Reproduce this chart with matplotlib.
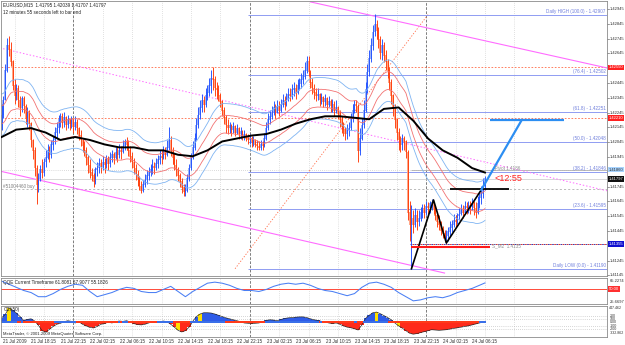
import numpy as np
import pandas as pd
import matplotlib
matplotlib.use("Agg")
import matplotlib.pyplot as plt
from matplotlib.transforms import blended_transform_factory as btf

plt.rcParams['font.family'] = ['Liberation Sans', 'DejaVu Sans']

# ---------------- data (prices in pips above BASE) ----------------
BASE = 1.4000
PIP = 0.0001
first_open_pips = 213
close_pips = [
    223, 233, 253, 270, 267, 259, 243, 236, 241, 233,
    228, 234, 229, 221, 225, 217, 206, 199, 187, 176,
    180, 186, 184, 191, 194, 199, 196, 203, 206, 211,
    214, 220, 222, 218, 221, 216, 220, 217, 220, 215,
    218, 214, 209, 206, 202, 199, 194, 189, 184, 182,
    178, 186, 187, 190, 188, 191, 189, 193, 190, 194,
    196, 194, 198, 196, 199, 198, 202, 205, 203, 199,
    195, 191, 187, 183, 179, 175, 172, 176, 179, 182,
    184, 186, 188, 187, 190, 193, 195, 194, 198, 196,
    201, 206, 199, 194, 189, 186, 182, 178, 174, 171,
    172, 180, 187, 194, 201, 207, 216, 223, 228, 233,
    230, 236, 238, 243, 248, 247, 241, 240, 236, 232,
    226, 221, 216, 214, 216, 213, 215, 211, 214, 210,
    212, 209, 210, 207, 206, 207, 205, 206, 203, 202,
    201, 203, 202, 207, 214, 220, 222, 225, 228, 225,
    229, 226, 230, 233, 230, 234, 237, 236, 240, 241,
    238, 243, 244, 247, 249, 253, 259, 252, 245, 241,
    238, 236, 237, 233, 235, 232, 234, 230, 232, 229,
    230, 226, 228, 224, 220, 215, 213, 210, 213, 214,
    221, 226, 230, 229, 199, 207, 216, 226, 240, 252,
    261, 270, 279, 284, 280, 274, 265, 270, 263, 259,
    253, 245, 236, 228, 220, 211, 206, 203, 207, 205,
    198, 157, 149, 153, 149, 155, 151, 153, 157, 160,
    157, 161, 160, 163, 164, 159, 155, 151, 149, 145,
    143, 140, 141, 144, 147, 149, 152, 151, 155, 156,
    159, 157, 161, 160, 162, 161, 163, 160, 157, 163,
    167, 170, 175, 180]
high_pips = [
    230, 236, 257, 275, 276, 272, 260, 247, 244, 243,
    236, 236, 236, 230, 228, 226, 218, 207, 201, 189,
    184, 189, 193, 194, 199, 203, 202, 206, 209, 215,
    218, 223, 224, 224, 225, 222, 223, 221, 222, 221,
    222, 220, 215, 213, 207, 205, 201, 196, 193, 187,
    184, 188, 191, 194, 193, 195, 194, 196, 195, 198,
    199, 198, 201, 201, 203, 202, 206, 207, 208, 206,
    202, 198, 194, 190, 186, 182, 178, 179, 183, 186,
    188, 190, 193, 191, 194, 196, 199, 199, 202, 201,
    206, 215, 209, 201, 197, 193, 188, 184, 180, 176,
    176, 183, 190, 197, 205, 211, 221, 228, 233, 237,
    236, 241, 243, 248, 253, 255, 249, 245, 243, 238,
    233, 228, 223, 220, 218, 217, 218, 216, 217, 215,
    215, 213, 213, 211, 210, 210, 209, 209, 207, 206,
    205, 206, 205, 211, 218, 224, 226, 229, 232, 230,
    233, 232, 234, 237, 236, 238, 241, 241, 244, 245,
    244, 247, 248, 251, 253, 259, 263, 263, 253, 248,
    244, 241, 241, 238, 238, 236, 237, 235, 236, 234,
    234, 232, 233, 229, 226, 222, 218, 215, 217, 218,
    224, 230, 233, 233, 230, 214, 221, 233, 245, 257,
    267, 275, 284, 291, 287, 282, 276, 274, 272, 267,
    261, 255, 247, 237, 230, 221, 214, 209, 210, 209,
    206, 199, 165, 162, 159, 160, 159, 159, 161, 163,
    163, 165, 164, 165, 166, 164, 161, 157, 155, 151,
    148, 145, 145, 147, 151, 152, 156, 155, 157, 160,
    163, 162, 165, 164, 165, 165, 167, 165, 164, 168,
    171, 175, 180, 182]
low_pips = [
    213, 221, 233, 252, 263, 256, 240, 230, 233, 228,
    222, 225, 224, 217, 215, 213, 201, 193, 182, 163,
    171, 178, 180, 182, 188, 193, 191, 194, 199, 203,
    207, 211, 215, 214, 215, 213, 214, 213, 214, 211,
    213, 210, 206, 202, 198, 195, 189, 184, 180, 178,
    174, 176, 182, 184, 184, 186, 184, 187, 186, 188,
    191, 190, 193, 191, 194, 193, 197, 199, 199, 195,
    191, 187, 183, 179, 175, 172, 170, 171, 174, 176,
    179, 182, 183, 183, 186, 187, 190, 190, 193, 193,
    195, 199, 195, 190, 186, 182, 178, 174, 170, 168,
    168, 171, 178, 186, 193, 199, 206, 214, 220, 225,
    225, 228, 233, 236, 238, 240, 236, 234, 232, 228,
    222, 217, 211, 210, 211, 209, 211, 209, 210, 207,
    207, 206, 206, 205, 203, 203, 201, 202, 201, 199,
    199, 199, 199, 201, 206, 213, 217, 220, 223, 221,
    224, 222, 225, 228, 226, 229, 232, 232, 234, 236,
    234, 237, 240, 241, 244, 247, 251, 249, 241, 237,
    234, 232, 233, 229, 230, 228, 229, 226, 228, 225,
    225, 222, 224, 220, 215, 211, 209, 206, 207, 209,
    213, 218, 224, 225, 191, 196, 206, 214, 225, 238,
    249, 259, 267, 276, 274, 268, 261, 260, 259, 253,
    248, 240, 230, 222, 214, 206, 199, 198, 199, 199,
    194, 152, 138, 119, 143, 147, 145, 148, 151, 153,
    153, 155, 156, 157, 159, 156, 152, 147, 145, 142,
    140, 137, 136, 138, 141, 144, 147, 147, 149, 152,
    155, 153, 156, 156, 157, 156, 159, 155, 153, 156,
    160, 163, 167, 172]

slow_ma_bars = list(range(0, 257, 8)) + [263]
slow_ma_pips = [208, 213, 214, 211, 206, 208, 206, 203, 201, 201, 199, 199,
                196, 195, 199, 205, 207, 209, 210, 213, 217, 220, 222, 222,
                221, 220, 227, 228, 219, 207, 199, 194, 187, 184]

qqe_bars = list(range(0, 261, 4)) + [263]
qqe_values = [65.2, 59.3, 53.4, 47.4, 43.5, 35.6, 35.6, 41.5, 49.4, 55.3,
              59.3, 57.3, 45.5, 35.6, 39.5, 43.5, 49.4, 53.4, 51.4, 45.5,
              43.5, 43.5, 49.4, 55.3, 45.5, 35.6, 45.5, 53.4, 61.3, 63.3,
              61.3, 57.3, 51.4, 47.4, 47.4, 45.5, 49.4, 55.3, 59.3, 61.3,
              59.3, 61.3, 57.3, 51.4, 47.4, 45.5, 41.5, 37.5, 41.5, 53.4,
              61.3, 63.3, 59.3, 53.4, 43.5, 35.6, 27.7, 29.6, 33.6, 35.6,
              33.6, 37.5, 43.5, 47.4, 51.4, 57.3, 61.8]
qqe_level = 50

cci_bars = list(range(0, 263, 2))
cci_values = [140, 250, 447, 380, 290, 180, 60, 90, 110, 40,
              -90, -260, -300, -220, -130, -60, -30, 20, 50, 30,
              -20, 20, -60, -110, -160, -175, -130, -60, -40, 10,
              -20, 20, 40, 30, 50, 10, -40, -70, -80, -60,
              -20, 20, 30, 10, 40, 20, -60, -150, -250, -300,
              -260, -150, 30, 180, 260, 300, 300, 290, 260, 220,
              180, 140, 110, 80, 50, 20, -20, -30, -40, -30,
              -20, 20, 60, 80, 70, 50, 90, 120, 140, 150,
              160, 170, 170, 150, 110, 80, 60, 30, 10, -20,
              -40, -20, -60, -110, -150, -170, -200, -240, -80, 120,
              220, 300, 320, 270, 210, 150, 80, -20, -110, -180,
              -260, -340, -370, -350, -320, -290, -260, -230, -240, -250,
              -240, -230, -210, -190, -170, -150, -130, -110, -80, -50,
              -20, 10]
cci_signal_bars = [4, 96, 108, 204, 216]

time_labels = ["21 Jul 2009", "21 Jul 18:15", "21 Jul 22:15", "22 Jul 02:15",
               "22 Jul 06:15", "22 Jul 10:15", "22 Jul 14:15", "22 Jul 18:15",
               "22 Jul 22:15", "23 Jul 02:15", "23 Jul 06:15", "23 Jul 10:15",
               "23 Jul 14:15", "23 Jul 18:15", "23 Jul 22:15", "24 Jul 02:15",
               "24 Jul 06:15"]
first_label_bar = 7
bars_per_label = 16
separator_bars = [39, 135, 231]

price_ticks = [1.42945, 1.42845, 1.42745, 1.42645, 1.42445, 1.42345, 1.42245,
               1.42145, 1.42045, 1.41945, 1.41745, 1.41645, 1.41545, 1.41445,
               1.41245, 1.41145]

fib_high = 1.42907
fib_low = 1.41190
fib_ratios = [100.0, 76.4, 61.8, 50.0, 38.2, 23.6, 0.0]
fib_start_bar = 134
fib_diag_bars = [127, 232]

red_levels = [1.42550, 1.42210]
bid_price = 1.41797
order_price = 1.41729
pivot_price = 1.41860
s_m2_price = 1.41355
zigzag_bars = [223, 235, 242, 261]
zigzag_prices = [1.41190, 1.41655, 1.41364, 1.41723]
blue_ray_bars = [261, 283]
blue_ray_prices = [1.41723, 1.42195]
blue_hline_bars = [266, 306]
black_hline_bars = [244, 276]
black_hline_price = 1.41730
red_hline_bars = [223, 266]
red_hline_price = 1.41340
mag_upper_bars = [168, 330]
mag_upper_prices = [1.42993, 1.42545]
mag_lower_bars = [-1, 241]
mag_lower_prices = [1.41850, 1.41161]
mag_dot_bars = [-1, 330]
mag_dot_prices = [1.42682, 1.41715]

# ---------------- derived ----------------
closes = BASE + PIP * np.array(close_pips, float)
opens = np.r_[BASE + PIP * first_open_pips, closes[:-1]]
highs = np.maximum.reduce([BASE + PIP * np.array(high_pips, float), opens, closes])
lows = np.minimum.reduce([BASE + PIP * np.array(low_pips, float), opens, closes])
n = len(closes)
idx = np.arange(n)

W, H = 625, 345
fig = plt.figure(figsize=(W / 100, H / 100), dpi=100)
fig.patch.set_facecolor('white')


def axrect(x0, y0, x1, y1):
    return [x0 / W, 1 - y1 / H, (x1 - x0) / W, (y1 - y0) / H]


ax = fig.add_axes(axrect(1, 1, 607, 276))
ax1 = fig.add_axes(axrect(1, 278, 607, 304))
ax2 = fig.add_axes(axrect(1, 306, 607, 337))
XMIN, XMAX = -0.35, 329.4
for a in (ax, ax1, ax2):
    a.set_xlim(XMIN, XMAX)
    a.set_xticks([])
    a.set_yticks([])
    for s in a.spines.values():
        s.set_color('#8a8a8a')
        s.set_linewidth(0.6)
ax.set_ylim(1.41141, 1.42999)
ax1.set_ylim(21.71, 71.16)
ax2.set_ylim(-458, 510)

FS = 3.3
RFS = 3.0
# grid + separators
for a in (ax, ax1, ax2):
    for k in range(18):
        a.axvline(first_label_bar + bars_per_label * k, color='#c4c4c4', lw=0.5,
                  ls=(0, (1, 2)), zorder=0)
    for b in separator_bars:
        a.axvline(b, color='#6a6a6a', lw=0.6, ls=(0, (3, 2)), zorder=0.5)

# horizontal levels
ax.hlines(red_levels, XMIN, XMAX, colors='#ff6a45', lw=0.6, ls=(0, (2, 2)), zorder=1)
ax.axhline(bid_price, color='#c8c8c8', lw=0.5, zorder=1)
ax.axhline(order_price, color='#a0a0a0', lw=0.5, ls=(0, (3, 3)), zorder=1)
ax.axhline(pivot_price, color='#b8b8b8', lw=0.5, ls=(0, (1, 2)), zorder=1)
ax.hlines(pivot_price, 223, XMAX, colors='#b0b0b0', lw=0.6, zorder=1)
ax.hlines(s_m2_price, 222, XMAX, colors='#1a1aa0', lw=0.6, ls=(0, (2, 3)), zorder=1)
ax.hlines(s_m2_price, 222, XMAX, colors='#d01010', lw=0.6, ls=(2.5, (2, 3)), zorder=1)

fib_prices = [fib_low + r / 100 * (fib_high - fib_low) for r in fib_ratios]
ax.hlines(fib_prices, fib_start_bar, XMAX, colors='#8f9cf2', lw=0.7, zorder=1.5)
for r, p in zip(fib_ratios, fib_prices):
    if r == 100.0:
        lab = f"Daily HIGH ({r:.1f}) - {p:.5f}"
    elif r == 0.0:
        lab = f"Daily LOW ({r:.1f}) - {p:.5f}"
    else:
        lab = f"({r:.1f}) - {p:.5f}"
    ax.text(XMAX - 0.8, p + 0.00003, lab, ha='right', va='bottom', fontsize=FS,
            color='#6f7fdc', zorder=3)
ax.plot(fib_diag_bars, [fib_low, fib_high], color='#ff6a45', lw=0.6,
        ls=(0, (1.5, 2)), zorder=1)

# magenta channel
ax.plot(mag_upper_bars, mag_upper_prices, color='#ff6cff', lw=0.8, zorder=1.5)
ax.plot(mag_lower_bars, mag_lower_prices, color='#ff6cff', lw=0.8, zorder=1.5)
ax.plot(mag_dot_bars, mag_dot_prices, color='#ff6cff', lw=0.7, ls=(0, (1.5, 2)), zorder=1.5)

# candles
up = closes >= opens
body_lo = np.minimum(opens, closes) - 0.00002
body_hi = np.maximum(opens, closes) + 0.00002
ax.vlines(idx[up], body_lo[up], body_hi[up], color='#9db3f6', lw=1.4, zorder=2)
ax.vlines(idx[~up], body_lo[~up], body_hi[~up], color='#ffa584', lw=1.4, zorder=2)
ax.vlines(idx[up], lows[up], highs[up], color='#2050ff', lw=0.65, zorder=2.1)
ax.vlines(idx[~up], lows[~up], highs[~up], color='#ff3a08', lw=0.65, zorder=2.1)

# moving averages
ema = pd.Series(closes).ewm(span=34, adjust=False).mean().values
for off, col in ((0.0014, '#7fb4f2'), (-0.0014, '#7fb4f2'),
                 (0.0006, '#f27272'), (-0.0006, '#f27272')):
    ax.plot(idx, ema + off, color=col, lw=0.6, zorder=2.5)
ax.plot(slow_ma_bars, BASE + PIP * np.array(slow_ma_pips, float), color='black',
        lw=1.4, zorder=2.6)

# drawn objects
ax.plot(zigzag_bars, zigzag_prices, color='black', lw=1.2, zorder=3)
ax.hlines(black_hline_price, *black_hline_bars, colors='black', lw=1.3, zorder=3)
ax.hlines(red_hline_price, *red_hline_bars, colors='#ff1a1a', lw=1.5, zorder=3)
ax.plot(blue_ray_bars, blue_ray_prices, color='#2c8ef2', lw=1.6, zorder=3)
ax.hlines(blue_ray_prices[1], *blue_hline_bars, colors='#2c8ef2', lw=1.6, zorder=3)

ax.text(267, pivot_price - 0.00002, "_Pivot 1.4186", fontsize=FS, color='#909090',
        va='bottom', ha='left', zorder=3)
ax.text(267, s_m2_price - 0.0001, "S_M2  1.4135", fontsize=FS, color='#909090',
        va='center', ha='left', zorder=3)
ax.text(268, bid_price + 0.00003, "<12:55", fontsize=6.5, color='#ff2020',
        va='center', ha='left', zorder=3)
ax.text(1, order_price + 0.00003, "#51004460 buy", fontsize=FS, color='#808080',
        va='bottom', ha='left', zorder=3)
ax.text(0.004, 0.994, "EURUSD,M15  1.41795 1.42039 1.41707 1.41797",
        transform=ax.transAxes, fontsize=FS, va='top', ha='left', color='#202020')
ax.text(0.004, 0.968, "12 minutes 55 seconds left to bar end",
        transform=ax.transAxes, fontsize=FS, va='top', ha='left', color='#202020')

# right price scale
tr = btf(ax.transAxes, ax.transData)
for p in price_ticks:
    ax.plot([1.0, 1.003], [p, p], transform=tr, color='#707070', lw=0.5, clip_on=False)
    ax.text(1.004, p, f"{p:.5f}", transform=tr, fontsize=RFS, va='center', ha='left',
            color='#303030', clip_on=False)
for p, txt, fc, tc in ((red_levels[0], f"{red_levels[0]:.5f}", '#ff2020', 'white'),
                       (red_levels[1], f"{red_levels[1]:.5f}", '#ff2020', 'white'),
                       (pivot_price, f"{pivot_price:.5f}", '#a8d4ff', '#303030'),
                       (bid_price, f"{bid_price:.5f}", '#111111', 'white'),
                       (s_m2_price, f"{s_m2_price:.5f}", '#1010d0', 'white')):
    ax.text(1.003, p, txt, transform=tr, fontsize=RFS, va='center', ha='left', color=tc,
            clip_on=False, bbox=dict(boxstyle='square,pad=0.2', fc=fc, ec='none'))

# ---------------- panel 1 ----------------
ax1.plot(qqe_bars, qqe_values, color='#4a7ff4', lw=0.75, zorder=2)
ax1.axhline(qqe_level, color='#ff4a3a', lw=0.7, zorder=1.5)
ax1.text(0.004, 0.93, "QQE Current Timeframe 61.8081 57.9077 55.1826",
         transform=ax1.transAxes, fontsize=FS, va='top', ha='left', color='#202020')
tr1 = btf(ax1.transAxes, ax1.transData)
for v, t in ((65.2274, "65.2274"), (25.6697, "25.6697")):
    ax1.text(1.004, v, t, transform=tr1, fontsize=RFS, va='center', ha='left',
             color='#303030', clip_on=False)
ax1.text(1.003, qqe_level, "50.00", transform=tr1, fontsize=RFS, va='center', ha='left',
         color='white', clip_on=False,
         bbox=dict(boxstyle='square,pad=0.2', fc='#ff3030', ec='none'))

# ---------------- panel 2 (CCI histogram) ----------------
cci = np.array(cci_values, float)
cols = np.where(cci >= 0, '#2f5ce8', '#ff2a1a').astype(object)
for b in cci_signal_bars:
    cols[cci_bars.index(b)] = '#ffe000'
for lv in (200, 100, -100, -200):
    ax2.axhline(lv, color='#b0b0b0', lw=0.5, ls=(0, (1, 2)), zorder=0.8)
ax2.bar(cci_bars, cci, width=2.0, color=list(cols), linewidth=0, zorder=1.5)
ax2.plot(cci_bars, cci, color='#2a2a2a', lw=0.5, zorder=1.8)
band_cols = np.where(closes >= ema, '#3a6fe8', '#ff3a1a')
ax2.bar(idx, 70, bottom=-35, width=1.0, color=list(band_cols), linewidth=0, zorder=2)
ax2.text(0.004, 0.96, "CCI(50)", transform=ax2.transAxes, fontsize=FS, va='top',
         ha='left', color='#202020')
ax2.text(0.004, 0.04, "MetaTrader, \u00a9 2001-2009 MetaQuotes Software Corp.",
         transform=ax2.transAxes, fontsize=3.0, va='bottom', ha='left', color='#202020')
tr2 = btf(ax2.transAxes, ax2.transData)
for v, t in ((447.462, "447.462"), (200, "200"), (100, "100"), (0, "0.00"),
             (-100, "-100"), (-200, "-200"), (-332.862, "-332.862")):
    ax2.text(1.004, v, t, transform=tr2, fontsize=2.6, va='center', ha='left',
             color='#303030', clip_on=False)

# time labels
trx = btf(ax2.transData, ax2.transAxes)
for k, lab in enumerate(time_labels):
    ax2.text(first_label_bar + bars_per_label * k, -0.13, lab, transform=trx,
             fontsize=FS, va='center', ha='center', color='#303030', clip_on=False)

fig.savefig("out.png", dpi=100, facecolor='white')
